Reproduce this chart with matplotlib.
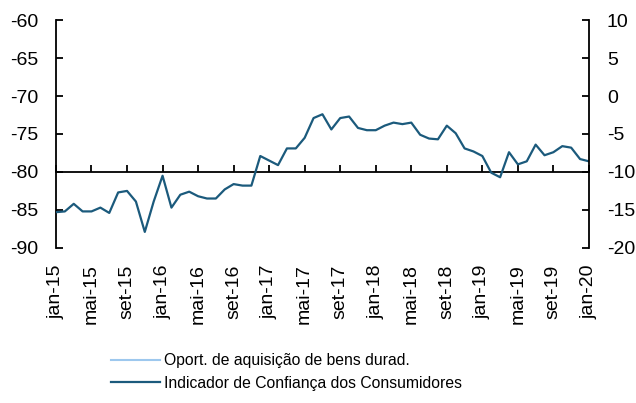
import numpy as np
import matplotlib
matplotlib.use("Agg")
import matplotlib.pyplot as plt

plt.rcParams['font.family'] = ['Liberation Sans', 'DejaVu Sans']
plt.rcParams['axes.unicode_minus'] = False

# monthly, jan-15 .. jan-20
icc = [-15.3, -15.2, -14.2, -15.2, -15.2, -14.7, -15.4, -12.7, -12.5, -13.9,
       -17.9, -13.9, -10.5, -14.7, -13.0, -12.6, -13.2, -13.5, -13.5, -12.3,
       -11.6, -11.8, -11.8, -7.9, -8.5, -9.1, -6.9, -6.9, -5.5, -2.9,
       -2.4, -4.4, -2.9, -2.7, -4.2, -4.5, -4.5, -3.9, -3.5, -3.7,
       -3.5, -5.1, -5.6, -5.7, -3.9, -4.9, -6.9, -7.3, -7.9, -10.1,
       -10.7, -7.4, -9.0, -8.6, -6.4, -7.8, -7.4, -6.6, -6.8, -8.3,
       -8.6]
oport = []  # series not visible in the chart
month_names = ['jan', 'mai', 'set']
years = ['15', '16', '17', '18', '19', '20']
tick_labels = [m + '-' + y for y in years for m in month_names][:-2]

months = np.arange(len(icc))
tick_pos = np.arange(0, len(icc), 4)

fig = plt.figure(figsize=(6.36, 4.03), dpi=100)
ax = fig.add_axes([0.088, 0.385, 0.838, 0.565])
ax2 = ax.twinx()

dark = '#1B5A7C'
light = '#9DC8EE'
fs = 14

ax.set_ylim(-90, -60)
ax.set_yticks(np.arange(-90, -59, 5))
ax2.set_ylim(-20, 10)
ax2.set_yticks(np.arange(-20, 11, 5))
ax.set_xlim(0, len(icc) - 1)

l1, = ax.plot(np.arange(len(oport)), oport, color=light, lw=1.5,
              label='Oport. de aquisição de bens durad.')
l2, = ax2.plot(months, icc, color=dark, lw=1.6,
               label='Indicador de Confiança dos Consumidores')

for a in (ax, ax2):
    a.spines['top'].set_visible(False)
    a.spines['bottom'].set_visible(False)
    a.spines['left'].set_linewidth(1.3)
    a.spines['right'].set_linewidth(1.3)
ax.spines['right'].set_visible(False)
ax2.spines['left'].set_visible(False)

ax.tick_params(axis='y', direction='in', length=5, width=1.3, labelsize=fs, pad=13)
ax2.tick_params(axis='y', direction='in', length=5, width=1.3, labelsize=fs, pad=13)

# x axis line at -80 with ticks pointing up
ax.spines['bottom'].set_visible(True)
ax.spines['bottom'].set_position(('data', -80))
ax.spines['bottom'].set_linewidth(1.3)
ax.set_xticks(tick_pos)
ax.tick_params(axis='x', direction='in', length=5, width=1.3, labelbottom=False)

sec = ax.secondary_xaxis('bottom')
sec.set_xticks(tick_pos)
sec.set_xticklabels(tick_labels, rotation=90)
sec.tick_params(length=0, labelsize=fs, pad=12)
sec.spines['bottom'].set_visible(False)

fig.legend(handles=[l1, l2], loc='upper left', bbox_to_anchor=(0.1745, 0.123),
           frameon=False, fontsize=11.3, handlelength=3.1, handletextpad=0.3,
           labelspacing=0.48, borderaxespad=0, borderpad=0)

fig.savefig('out.png', dpi=100)
